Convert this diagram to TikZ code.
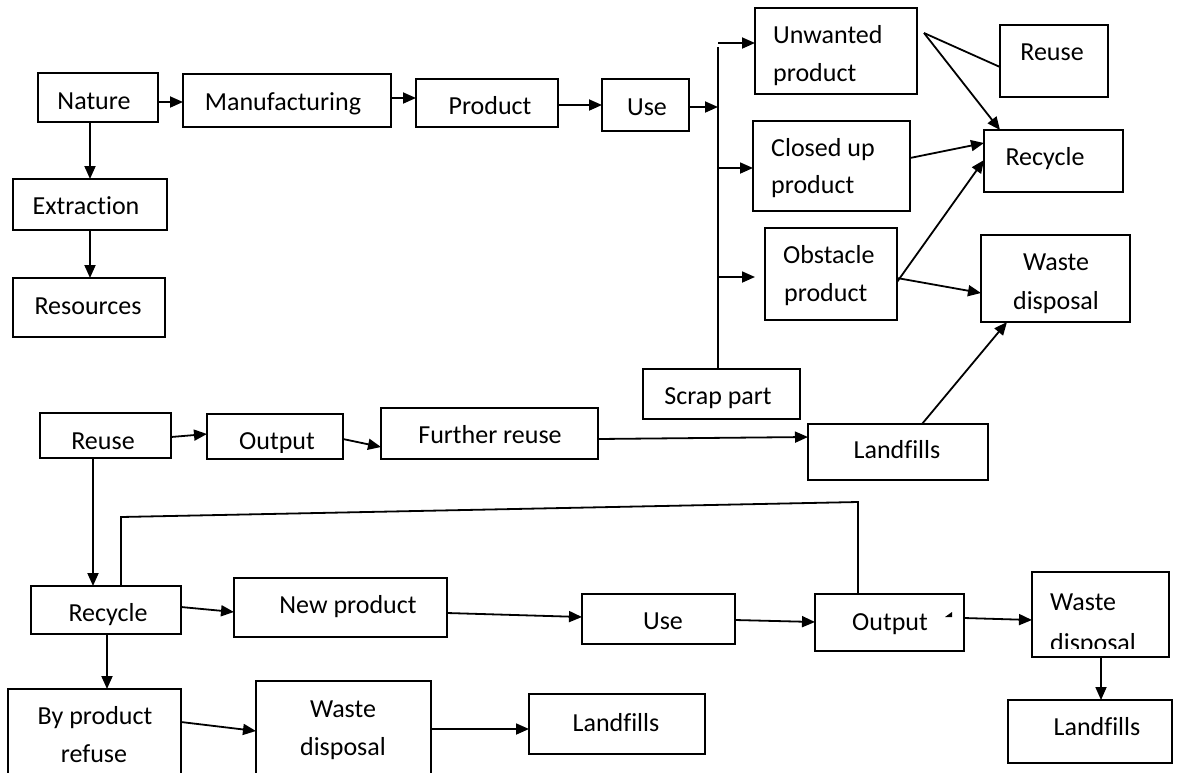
\documentclass[tikz,border=0pt]{standalone}
\usepackage{fontspec}
\setmainfont{Carlito}[Ligatures={NoCommon}]
\usetikzlibrary{arrows.meta}
\tikzset{
 bx/.style={draw,line width=1.8pt,inner sep=0pt,outer sep=0pt},
 tx/.style={inner sep=0pt,anchor=base,font=\fontsize{26}{39}\selectfont},
 txl/.style={tx,anchor=base west},
 ar/.style={line width=1.8pt,-{Triangle[length=13pt,width=11pt]}},
 ln/.style={line width=1.8pt},
}
\newcommand\bxn[5]{\pgfmathsetmacro\bw{#4-#2}\pgfmathsetmacro\bh{#5-#3}\node[bx,minimum width=\bw pt,minimum height=\bh pt] (#1) at ({(#2+#4)/2},{(#3+#5)/2}) {};}
\newcommand\tx[4]{\node[tx] (#1) at (#2,#3) {#4};}
\newcommand\txw[4]{\node[txl] (#1) at (#2,#3) {#4};}
\begin{document}
\begin{tikzpicture}[x=1pt,y=-1pt]
\useasboundingbox (0,0) rectangle (1179,772);
\clip (0,0) rectangle (1179,772);
% boxes
\bxn{nature}{38}{73}{158}{122}
\bxn{manu}{183}{74}{391}{127}
\bxn{prod}{416}{79}{558}{127}
\bxn{use}{602}{79}{689}{131}
\bxn{extr}{13}{179}{167}{230}
\bxn{res}{13}{278}{165}{337}
\bxn{unw}{755}{8}{917}{94}
\bxn{closed}{753}{121}{910}{211}
\bxn{obst}{765}{228}{897}{320}
\bxn{reuseT}{1000}{25}{1108}{97}
\bxn{recT}{984}{130}{1123}{192}
\bxn{wasteT}{981}{235}{1130}{322}
\bxn{scrap}{643}{369}{800}{419}
\bxn{reuseM}{40}{413}{171}{458}
\bxn{outM}{207}{414}{343}{459}
\bxn{further}{381}{408}{598}{459}
\bxn{landM}{808}{424}{988}{480}
\bxn{recB}{31}{586}{181}{634}
\bxn{newp}{234}{578}{447}{637}
\bxn{useB}{582}{594}{735}{644}
\bxn{outB}{815}{594}{964}{651}
\bxn{wasteBR}{1032}{572}{1169}{657}
\bxn{landBR}{1008}{700}{1172}{763}
\bxn{byp}{8}{689}{181}{790}
\bxn{wasteB}{256}{681}{431}{790}
\bxn{landB}{529}{694}{705}{754}
% texts
\tx{t1}{94}{109}{Nature}
\tx{t2}{283}{110}{Manufacturing}
\tx{t3}{490}{114}{Product}
\tx{t4}{647}{115}{Use}
\tx{t5}{86}{214}{Extraction}
\tx{t6}{88}{314}{Resources}
\txw{t7}{773}{43}{Unwanted}
\txw{t8}{773}{81}{product}
\txw{t9}{771}{156}{Closed up}
\txw{t10}{771}{193}{product}
\txw{t11}{783}{263}{Obstacle}
\txw{t12}{784}{301}{product}
\tx{t13}{1052}{60}{Reuse}
\tx{t14}{1045}{165}{Recycle}
\tx{t15}{1056}{270}{Waste}
\tx{t16}{1056}{309}{disposal}
\tx{t17}{718}{404}{Scrap part}
\tx{t18}{103}{449}{Reuse}
\begin{scope}
\clip (207,414) rectangle (343,452);
\tx{t19}{277}{449}{Output}
\end{scope}
\tx{t20}{490}{443}{Further reuse}
\tx{t21}{897}{458}{Landfills}
\tx{t22}{108}{621}{Recycle}
\tx{t23}{348}{613}{New product}
\tx{t24}{663}{629}{Use}
\tx{t25}{890}{630}{Output}
\txw{t26}{1050}{610}{Waste}
\begin{scope}
\clip (1032,572) rectangle (1169,648);
\txw{t27}{1050}{651}{disposal}
\end{scope}
\tx{t28}{1097}{735}{Landfills}
\tx{t29}{95}{724}{By product}
\tx{t30}{94}{762}{refuse}
\tx{t31}{343}{717}{Waste}
\tx{t32}{343}{755}{disposal}
\tx{t33}{616}{731}{Landfills}
% connectors top-left
\draw[ar] (nature.east |- 0,102) -- (manu.west |- 0,102);
\draw[ar] (manu.east |- 0,98) -- (prod.west |- 0,98);
\draw[ar] (prod.east |- 0,105) -- (use.west |- 0,105);
\draw[ar] (nature.south -| 90,0) -- (extr.north -| 90,0);
\draw[ar] (extr.south -| 90,0) -- (res.north -| 90,0);
% bus
\coordinate (bustop) at (718,47);
\draw[ln] (scrap.north -| bustop) -- (bustop);
\draw[ar] (use.east |- 0,107) -- (bustop |- 0,107);
\draw[ar] (bustop |- 0,43) -- (unw.west |- 0,43);
\draw[ar] (bustop |- 0,168) -- (closed.west |- 0,168);
\draw[ar,shorten >=10pt] (bustop |- 0,277) -- (obst.west |- 0,277);
% right part
\coordinate (ufork) at (924,33);
\draw[ln] (ufork) -- (reuseT.west |- 0,67);
\draw[ar] (ufork) -- (recT.north -| 1000,0);
\draw[ar] (closed.east |- 0,158) -- (recT.west |- 0,143);
\draw[ar] (obst.east |- 0,282) -- (recT.west |- 0,160);
\draw[ar] (obst.east |- 0,278) -- (wasteT.west |- 0,293);
\draw[ar] (landM.north -| 922,0) -- (wasteT.south -| 1007,0);
% middle row
\draw[ar] (reuseM.east |- 0,437) -- (outM.west |- 0,434);
\draw[ar] (outM.east |- 0,439) -- (further.west |- 0,447);
\draw[ar] (further.east |- 0,439) -- (landM.west |- 0,437);
\draw[ar] (reuseM.south -| 93,0) -- (recB.north -| 93,0);
\coordinate (lp1) at (121,517);
\coordinate (lp2) at (858,502);
\draw[ln] (recB.north -| lp1) -- (lp1) -- (lp2) -- (outB.north -| lp2);
% bottom rows
\draw[ar] (recB.east |- 0,607) -- (newp.west |- 0,612);
\draw[ar] (newp.east |- 0,613) -- (useB.west |- 0,617);
\draw[ar] (useB.east |- 0,620) -- (outB.west |- 0,622);
\draw[ar] (outB.east |- 0,618) -- (wasteBR.west |- 0,620);
\draw[ar] (wasteBR.south -| 1101,0) -- (landBR.north -| 1101,0);
\draw[ar] (recB.south -| 107,0) -- (byp.north -| 107,0);
\draw[ar] (byp.east |- 0,722) -- (wasteB.west |- 0,731);
\draw[ar] (wasteB.east |- 0,729) -- (landB.west |- 0,729);
\fill (945,617) -- (952,612) -- (952,617) -- cycle;
\end{tikzpicture}
\end{document}
